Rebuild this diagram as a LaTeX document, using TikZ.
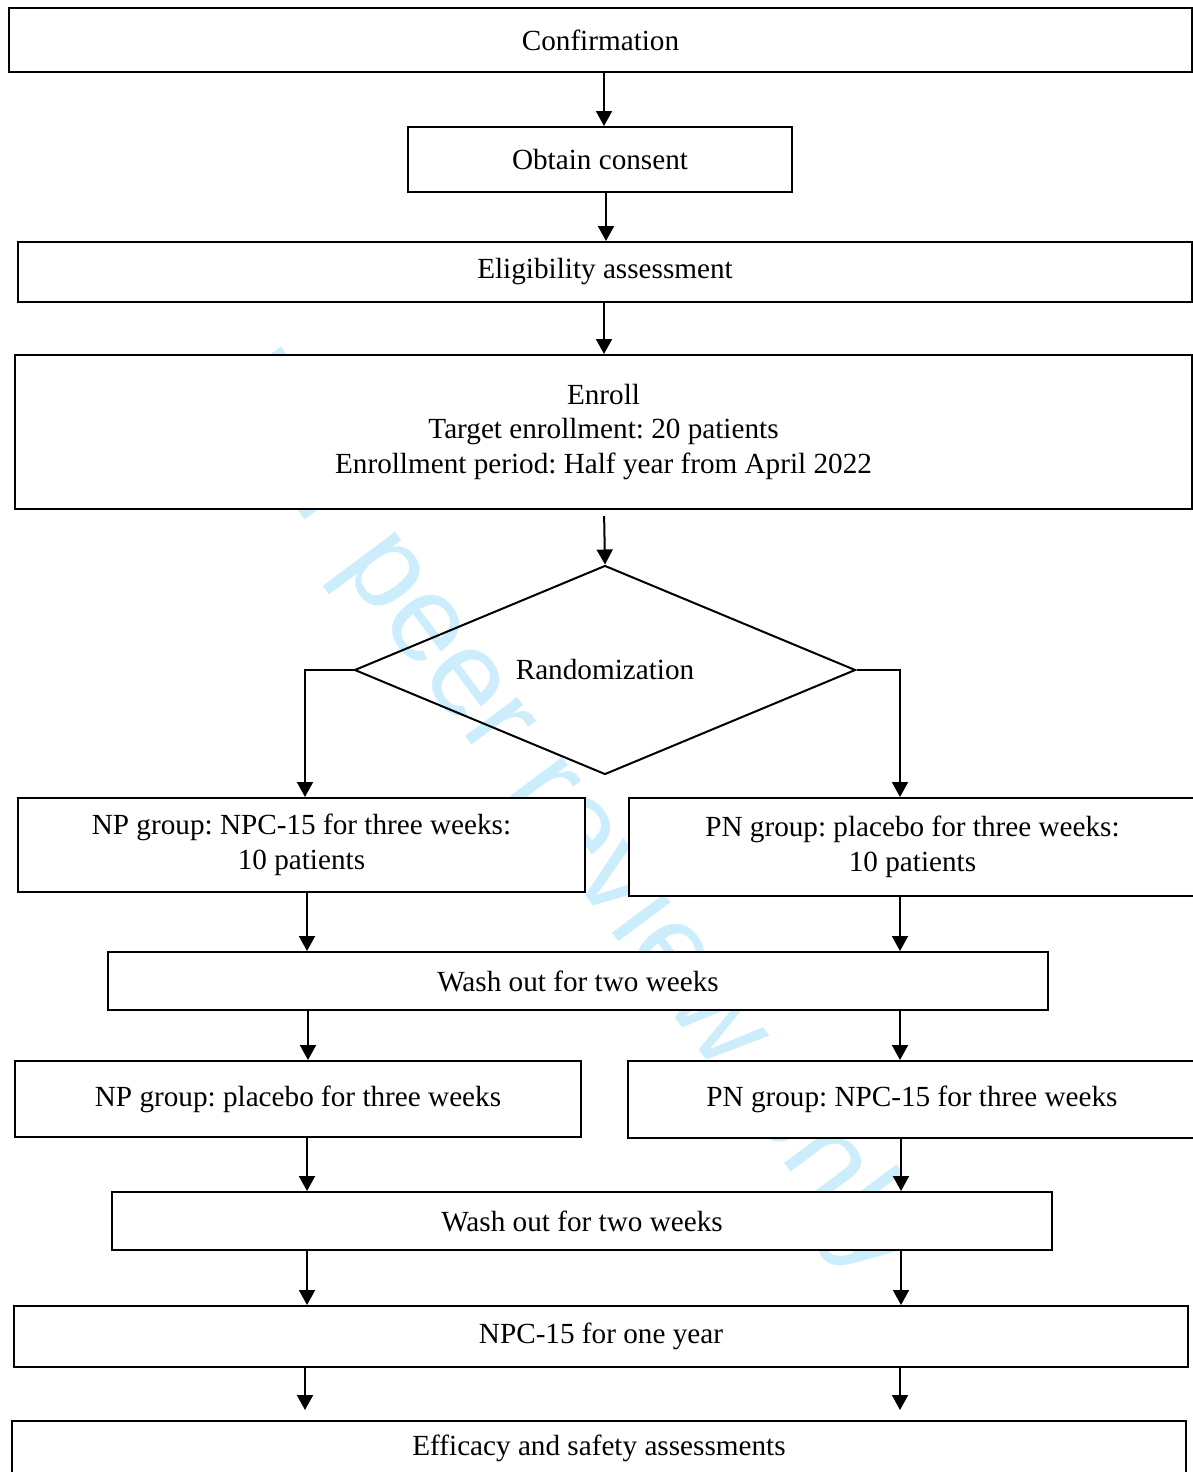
\documentclass[tikz,border=0pt]{standalone}
\usepackage{fontspec}
\setmainfont{Liberation Serif}
\newfontfamily\wmfont{Liberation Sans}
\usetikzlibrary{arrows.meta,shapes.geometric}
\definecolor{wmblue}{RGB}{204,237,251}
\newcommand\boxfont{\frenchspacing\fontsize{14.6}{17.3}\selectfont}
\tikzset{
  box/.style={draw, line width=1pt, fill=white, inner sep=0pt, align=center, font=\boxfont},
  arr/.style={line width=1pt, -{Triangle[length=7.5pt,width=8pt]}},
  wm/.style={text=wmblue, font=\wmfont\fontsize{61.5}{68}\selectfont, inner sep=0pt}
}
\begin{document}
\begin{tikzpicture}[x=0.5pt,y=-0.5pt]
\useasboundingbox (0,0) rectangle (1193,1472);

% watermark sits beneath the white boxes
\node[wm, rotate=-53.3] (watermark) at (566,817) {For peer review only};

% process boxes
\node[box, minimum width=591.5pt, minimum height=32pt]   (conf)    at (600.5,40)   {Confirmation};
\node[box, minimum width=192pt,   minimum height=32.5pt] (consent) at (600,159.5)  {Obtain consent};
\node[box, minimum width=587pt,   minimum height=30pt]   (elig)    at (605,272)    {Eligibility assessment};
\node[box, minimum width=588.5pt, minimum height=77pt]   (enroll)  at (603.5,432)  {Enroll\\Target enrollment: 20 patients\\Enrollment period: Half year from April 2022};
\node[draw, line width=1pt, diamond, aspect=2.4, minimum width=250.5pt, minimum height=104.5pt, inner sep=0pt, font=\boxfont] (rand) at (605,670) {Randomization};
\node[box, minimum width=283.5pt, minimum height=47pt]   (np1)     at (301.5,845)  {NP group: NPC-15 for three weeks:\\10 patients};
\node[box, minimum width=283.5pt, minimum height=49pt]   (pn1)     at (912.5,847)  {PN group: placebo for three weeks:\\10 patients};
\node[box, minimum width=470pt,   minimum height=29pt]   (wash1)   at (578,981)    {Wash out for two weeks};
\node[box, minimum width=283pt,   minimum height=38pt]   (np2)     at (298,1099)   {NP group: placebo for three weeks};
\node[box, minimum width=284pt,   minimum height=38.5pt] (pn2)     at (912,1099.5) {PN group: NPC-15 for three weeks};
\node[box, minimum width=470pt,   minimum height=29pt]   (wash2)   at (582,1221)   {Wash out for two weeks};
\node[box, minimum width=587pt,   minimum height=30.5pt] (year)    at (601,1336.5) {NPC-15 for one year};
\node[box, minimum width=587pt,   minimum height=27.5pt] (eff)     at (599,1448.5) {Efficacy and safety assessments};

% main column
\draw[arr] (604,0 |- conf.south) -- (604,0 |- consent.north);
\draw[arr] (606,0 |- consent.south) -- (606,0 |- elig.north);
\draw[arr] (604,0 |- elig.south) -- (604,0 |- enroll.north);
\draw[arr, shorten <=3pt] (604,0 |- enroll.south) -- (rand.north);

% branches out of the randomization
\draw[arr] (rand.west) -- (305,0 |- rand.west) -- (305,0 |- np1.north);
\draw[arr] (rand.east) -- (900,0 |- rand.east) -- (900,0 |- pn1.north);

% left branch
\draw[arr] (307,0 |- np1.south) -- (307,0 |- wash1.north);
\draw[arr] (308,0 |- wash1.south) -- (308,0 |- np2.north);
\draw[arr] (307,0 |- np2.south) -- (307,0 |- wash2.north);
\draw[arr] (307,0 |- wash2.south) -- (307,0 |- year.north);
\draw[arr, shorten >=5pt] (305,0 |- year.south) -- (305,0 |- eff.north);

% right branch
\draw[arr] (900,0 |- pn1.south) -- (900,0 |- wash1.north);
\draw[arr] (900,0 |- wash1.south) -- (900,0 |- pn2.north);
\draw[arr] (901,0 |- pn2.south) -- (901,0 |- wash2.north);
\draw[arr] (901,0 |- wash2.south) -- (901,0 |- year.north);
\draw[arr, shorten >=5pt] (900,0 |- year.south) -- (900,0 |- eff.north);
\end{tikzpicture}
\end{document}
